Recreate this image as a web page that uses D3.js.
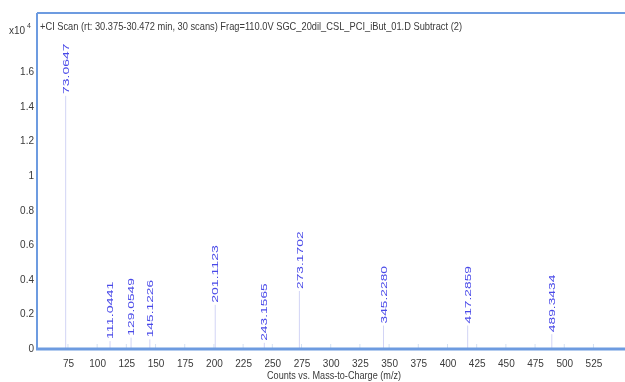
<!DOCTYPE html>
<html>
<head>
<meta charset="utf-8">
<script src="https://cdn.jsdelivr.net/npm/d3@7"></script>
<style>
  body { margin: 0; background: #fff; }
  text { font-family: "Liberation Sans Narrow", "Liberation Sans", Arial, sans-serif; }
</style>
</head>
<body>
<div id="chart"></div>
<script>
const width = 625;
const height = 382;

// peaks (m/z, counts x10^4)
const peakMz = [73.0647, 111.0441, 129.0549, 145.1226, 201.1123, 243.1565, 273.1702, 345.2280, 417.2859, 489.3434];
const peakCounts = [1.46, 0.04, 0.06, 0.05, 0.25, 0.03, 0.33, 0.13, 0.13, 0.08];
const xTicks = [75, 100, 125, 150, 175, 200, 225, 250, 275, 300, 325, 350, 375, 400, 425, 450, 475, 500, 525];
const yTicks = [0, 0.2, 0.4, 0.6, 0.8, 1, 1.2, 1.4, 1.6];
const titleText = "+CI Scan (rt: 30.375-30.472 min, 30 scans) Frag=110.0V SGC_20dil_CSL_PCI_iBut_01.D  Subtract (2)";
const xTitle = "Counts vs. Mass-to-Charge (m/z)";

const frameColor = "#6d9be0";
const peakColor = "#d2d4f5";
const labelColor = "#4a4ae8";
const textColor = "#3a3a3a";

const margin = { left: 37, top: 13, right: 0, bottom: 34 };

const x = d3.scaleLinear()
  .domain([48.5, 552])
  .range([margin.left, width - margin.right]);

const y = d3.scaleLinear()
  .domain([0, 1.94])
  .range([height - margin.bottom, margin.top]);

const svg = d3.select("#chart")
  .append("svg")
  .attr("width", width)
  .attr("height", height);

// soft look like the reference
svg.append("defs")
  .append("filter")
  .attr("id", "soft")
  .append("feGaussianBlur")
  .attr("stdDeviation", 0.35);

const g = svg.append("g").attr("filter", "url(#soft)");

// peaks
g.selectAll(".peak")
  .data(peakMz)
  .enter()
  .append("line")
  .attr("class", "peak")
  .attr("x1", d => x(d))
  .attr("x2", d => x(d))
  .attr("y1", y(0))
  .attr("y2", (d, i) => y(peakCounts[i]))
  .style("stroke", peakColor)
  .style("stroke-width", 1);

g.selectAll(".peakLabel")
  .data(peakMz)
  .enter()
  .append("text")
  .attr("class", "peakLabel")
  .attr("transform", (d, i) => `translate(${x(d)},${y(peakCounts[i]) - 2}) rotate(-90)`)
  .attr("dy", "0.35em")
  .attr("textLength", d => d.toFixed(4).length * 7.2)
  .attr("lengthAdjust", "spacingAndGlyphs")
  .style("font-size", "9px")
  .style("fill", labelColor)
  .text(d => d.toFixed(4));

// frame: top and left
g.append("line")
  .attr("x1", margin.left).attr("x2", width)
  .attr("y1", margin.top).attr("y2", margin.top)
  .style("stroke", frameColor).style("stroke-width", 2);
g.append("line")
  .attr("x1", margin.left).attr("x2", margin.left)
  .attr("y1", margin.top).attr("y2", y(0) + 1)
  .style("stroke", frameColor).style("stroke-width", 2);

// x axis
const xAxis = g.append("g")
  .attr("transform", `translate(0,${y(0)})`)
  .call(d3.axisBottom(x).tickValues(xTicks).tickSize(0).tickPadding(12));
xAxis.select(".domain").remove();
xAxis.selectAll("text")
  .style("font-size", "10px")
  .style("fill", textColor);

// small inner ticks
g.selectAll(".xTick")
  .data(xTicks)
  .enter()
  .append("line")
  .attr("x1", d => x(d)).attr("x2", d => x(d))
  .attr("y1", y(0) - 4).attr("y2", y(0))
  .style("stroke", "#d4e0f2").style("stroke-width", 1);

g.append("line")
  .attr("x1", margin.left - 1).attr("x2", width)
  .attr("y1", y(0) + 1).attr("y2", y(0) + 1)
  .style("stroke", frameColor).style("stroke-width", 3);

// y axis
const yAxis = g.append("g")
  .attr("transform", `translate(${margin.left - 3},0)`)
  .call(d3.axisLeft(y).tickValues(yTicks).tickSize(0).tickPadding(0).tickFormat(d3.format("~g")));
yAxis.select(".domain").remove();
yAxis.selectAll("text")
  .style("font-size", "10px")
  .style("fill", textColor);

// multiplier
const mult = g.append("text")
  .attr("x", 9)
  .attr("y", 34)
  .style("font-size", "10px")
  .style("fill", textColor);
mult.append("tspan").text("x10");
mult.append("tspan").attr("dy", -6).style("font-size", "7px").text(" 4");

// title
g.append("text")
  .attr("x", 40)
  .attr("y", 30)
  .attr("textLength", 422)
  .attr("lengthAdjust", "spacingAndGlyphs")
  .style("font-size", "10.5px")
  .style("fill", textColor)
  .text(titleText);

// x title
g.append("text")
  .attr("x", 267)
  .attr("y", 379)
  .attr("textLength", 134)
  .attr("lengthAdjust", "spacingAndGlyphs")
  .style("font-size", "10px")
  .style("fill", textColor)
  .text(xTitle);
</script>
</body>
</html>
